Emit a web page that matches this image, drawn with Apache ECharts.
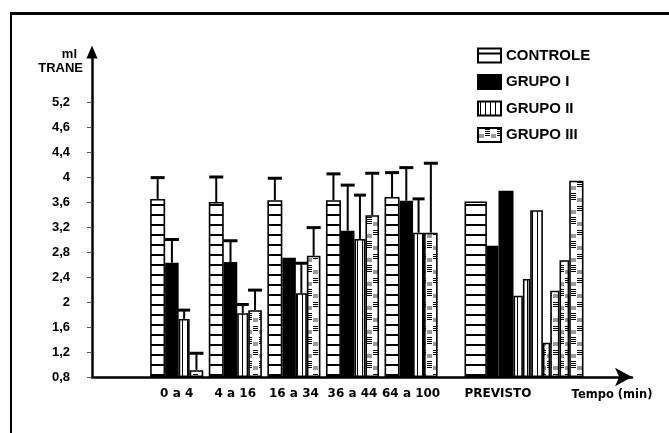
<!DOCTYPE html>
<html><head><meta charset="utf-8">
<script src="https://cdn.jsdelivr.net/npm/echarts@6/dist/echarts.min.js"></script>
<style>html,body{margin:0;padding:0;background:#fff}#c{width:669px;height:433px}</style>
</head><body><div id="c"></div>
<script>
// ---------------- data ----------------
const categories = ['0 a 4', '4 a 16', '16 a 34', '36 a 44', '64 a 100'];
const previstoCategory = ['PREVISTO'];
const seriesNames = ['CONTROLE', 'GRUPO I', 'GRUPO II', 'GRUPO III'];
const controle  = [3.65, 3.60, 3.63, 3.63, 3.68];
const grupoI    = [2.63, 2.64, 2.71, 3.14, 3.62];
const grupoII   = [1.73, 1.82, 2.14, 3.01, 3.11];
const grupoIII  = [0.91, 1.87, 2.74, 3.39, 3.11];
const controleErr = [3.99, 4.00, 3.98, 4.05, 4.07];
const grupoIErr   = [3.00, 2.98, null, 3.87, 4.15];
const grupoIIErr  = [1.87, 1.96, 2.62, 3.71, 3.65];
const grupoIIIErr = [1.18, 2.19, 3.19, 4.06, 4.22];
const previstoControle = [3.61];
const previstoGrupoI   = [2.90, 3.78];
const previstoGrupoII  = [2.10, 2.37, 3.47];
const previstoGrupoIII = [1.35, 2.18, 2.67, 3.94];
const yTickLabels = ['0,8', '1,2', '1,6', '2', '2,4', '2,8', '3,2', '3,6', '4', '4,4', '4,6', '5,2'];
const xAxisName = 'Tempo (min)';
const yAxisName = ['ml', 'TRANE'];

// ---------------- styles ----------------
const Y_MIN = 0.8, Y_MAX = 6.0, Y_STEP = 0.4;
const GRID_TOP = 52, GRID_BOTTOM = 56;
const mainBarWidths = [15, 13.5, 11, 13.6];
const previstoWidths = [[22.4], [11.6, 15], [9.4, 7.3, 12.7], [7.3, 9.3, 9.7, 14.3]];
const BORDER = 1.6;

function makeCanvas(w, h, draw) {
  const c = document.createElement('canvas');
  c.width = w; c.height = h;
  const x = c.getContext('2d');
  x.fillStyle = '#fff'; x.fillRect(0, 0, w, h);
  draw(x);
  return c;
}
const patControle = makeCanvas(10, 10, x => { x.fillStyle = '#000'; x.fillRect(0, 4, 10, 2); });
const patII = makeCanvas(5, 10, x => { x.fillStyle = '#000'; x.fillRect(2, 0, 1, 10); });
const patIII = makeCanvas(12, 24, x => {
  x.fillStyle = '#000';
  for (let k = 0; k < 4; k++) x.fillRect(7, 1 + 2 * k, 5, 1);
  for (let k = 0; k < 3; k++) x.fillRect(1, 14 + 2 * k, 5, 1);
  x.fillStyle = '#9a9a9a';
  x.fillRect(1, 6, 5, 4);
  x.fillRect(7, 18, 5, 4);
});
const fills = [
  { image: patControle, repeat: 'repeat' },
  '#000',
  { image: patII, repeat: 'repeat' },
  { image: patIII, repeat: 'repeat' }
];

const mainData = [controle, grupoI, grupoII, grupoIII];
const errData = [controleErr, grupoIErr, grupoIIErr, grupoIIIErr];
const previstoData = [previstoControle, previstoGrupoI, previstoGrupoII, previstoGrupoIII];
const yTickValues = yTickLabels.map((_, i) => +(Y_MIN + Y_STEP * i).toFixed(2));

const totalW = mainBarWidths.reduce((a, b) => a + b, 0);
const offsets = mainBarWidths.map((w, i) =>
  -totalW / 2 + mainBarWidths.slice(0, i).reduce((a, b) => a + b, 0) + w / 2);

const series = [];
seriesNames.forEach((name, i) => {
  series.push({
    type: 'bar', name, xAxisIndex: 1, yAxisIndex: 1,
    data: mainData[i], barWidth: mainBarWidths[i], barGap: '0%',
    itemStyle: { color: fills[i], borderColor: '#000', borderWidth: BORDER },
    silent: true, z: 2
  });
});
seriesNames.forEach((name, i) => {
  previstoData[i].forEach((v, k) => {
    series.push({
      type: 'bar', name, xAxisIndex: 2, yAxisIndex: 2,
      data: [v], barWidth: previstoWidths[i][k], barGap: '0%',
      itemStyle: { color: fills[i], borderColor: '#000', borderWidth: BORDER },
      silent: true, z: 2
    });
  });
});
seriesNames.forEach((name, i) => {
  const data = [];
  categories.forEach((c, j) => {
    if (errData[i][j] != null) data.push([j, mainData[i][j], errData[i][j]]);
  });
  series.push({
    type: 'custom', name, xAxisIndex: 1, yAxisIndex: 1, z: 5, silent: true,
    encode: { x: 0, y: [1, 2] },
    data,
    renderItem: (params, api) => {
      const cat = api.value(0);
      const p0 = api.coord([cat, api.value(1)]);
      const p1 = api.coord([cat, api.value(2)]);
      const x = p0[0] + offsets[i];
      const cap = Math.min(14, mainBarWidths[i] + 1);
      return {
        type: 'group', children: [
          { type: 'line', shape: { x1: x, y1: p0[1], x2: x, y2: p1[1] }, style: { stroke: '#000', lineWidth: 2 } },
          { type: 'line', shape: { x1: x - cap / 2, y1: p1[1], x2: x + cap / 2, y2: p1[1] }, style: { stroke: '#000', lineWidth: 3 } }
        ]
      };
    }
  });
});

const labelFont = { fontFamily: 'DejaVu Sans', fontWeight: 'bold', fontSize: 12, color: '#000' };
const hiddenY = (g) => ({ gridIndex: g, type: 'value', min: Y_MIN, max: Y_MAX, startValue: Y_MIN, show: false });

const option = {
  animation: false,
  backgroundColor: '#fff',
  graphic: [
    { type: 'line', shape: { x1: 10, y1: 13.5, x2: 669, y2: 13.5 }, style: { stroke: '#000', lineWidth: 3 } },
    { type: 'line', shape: { x1: 11, y1: 12, x2: 11, y2: 433 }, style: { stroke: '#000', lineWidth: 2 } }
  ],
  legend: {
    data: seriesNames, orient: 'vertical', left: 472, top: 42.5,
    itemWidth: 23, itemHeight: 14, itemGap: 10.5, icon: 'rect',
    selectedMode: false,
    textStyle: { fontFamily: 'Liberation Sans', fontWeight: 'bold', fontSize: 15, color: '#000' }
  },
  grid: [
    { left: 92, right: 37, top: GRID_TOP, bottom: GRID_BOTTOM },
    { left: 147.4, right: 228.6, top: GRID_TOP, bottom: GRID_BOTTOM },
    { left: 444, right: 65, top: GRID_TOP, bottom: GRID_BOTTOM }
  ],
  xAxis: [
    {
      gridIndex: 0, type: 'value', min: 0, max: 1,
      axisLine: { show: true, onZero: false, lineStyle: { color: '#000', width: 2.5 }, symbol: ['none', 'arrow'], symbolSize: [14, 17] },
      axisTick: { show: false }, axisLabel: { show: false }, splitLine: { show: false },
      name: xAxisName, nameLocation: 'end', nameGap: -20,
      nameTextStyle: { fontFamily: 'DejaVu Sans', fontWeight: 'bold', fontSize: 11.5, color: '#000', align: 'center', verticalAlign: 'top', padding: [12, 0, 0, 0] }
    },
    {
      gridIndex: 1, type: 'category', data: categories,
      axisLine: { show: false }, axisTick: { show: false },
      axisLabel: Object.assign({ margin: 11, interval: 0, hideOverlap: false }, labelFont)
    },
    {
      gridIndex: 2, type: 'category', data: previstoCategory,
      axisLine: { show: false }, axisTick: { show: false },
      axisLabel: Object.assign({ margin: 11, interval: 0, padding: [0, 52, 0, 0] }, labelFont)
    }
  ],
  yAxis: [
    {
      gridIndex: 0, type: 'value', min: Y_MIN, max: Y_MAX, interval: Y_STEP,
      axisLine: { show: true, onZero: false, lineStyle: { color: '#000', width: 2.5 }, symbol: ['none', 'triangle'], symbolSize: [11, 13] },
      axisTick: { show: true, length: 5, customValues: yTickValues, lineStyle: { color: '#555', width: 1 } },
      axisLabel: {
        customValues: yTickValues, margin: 22,
        fontFamily: 'Liberation Sans', fontWeight: 'bold', fontSize: 13, color: '#000',
        formatter: v => { const i = Math.round((v - Y_MIN) / Y_STEP); return yTickLabels[i] != null ? yTickLabels[i] : ''; }
      },
      splitLine: { show: false },
      name: '{a|' + yAxisName[0] + '}\n{b|' + yAxisName[1] + '}',
      nameLocation: 'end', nameGap: -23,
      nameTextStyle: {
        align: 'right', verticalAlign: 'bottom', padding: [0, 9, 0, 0],
        fontFamily: 'Liberation Sans', fontWeight: 'bold', fontSize: 13, color: '#000', lineHeight: 14,
        rich: {
          a: { align: 'right', padding: [0, 6, 0, 0], fontFamily: 'Liberation Sans', fontWeight: 'bold', fontSize: 13, lineHeight: 14, color: '#000' },
          b: { align: 'right', fontFamily: 'Liberation Sans', fontWeight: 'bold', fontSize: 13, lineHeight: 14, color: '#000' }
        }
      }
    },
    hiddenY(1),
    hiddenY(2)
  ],
  series
};

const chart = echarts.init(document.getElementById('c'), null, { renderer: 'canvas' });
chart.setOption(option);
</script>
</body></html>
